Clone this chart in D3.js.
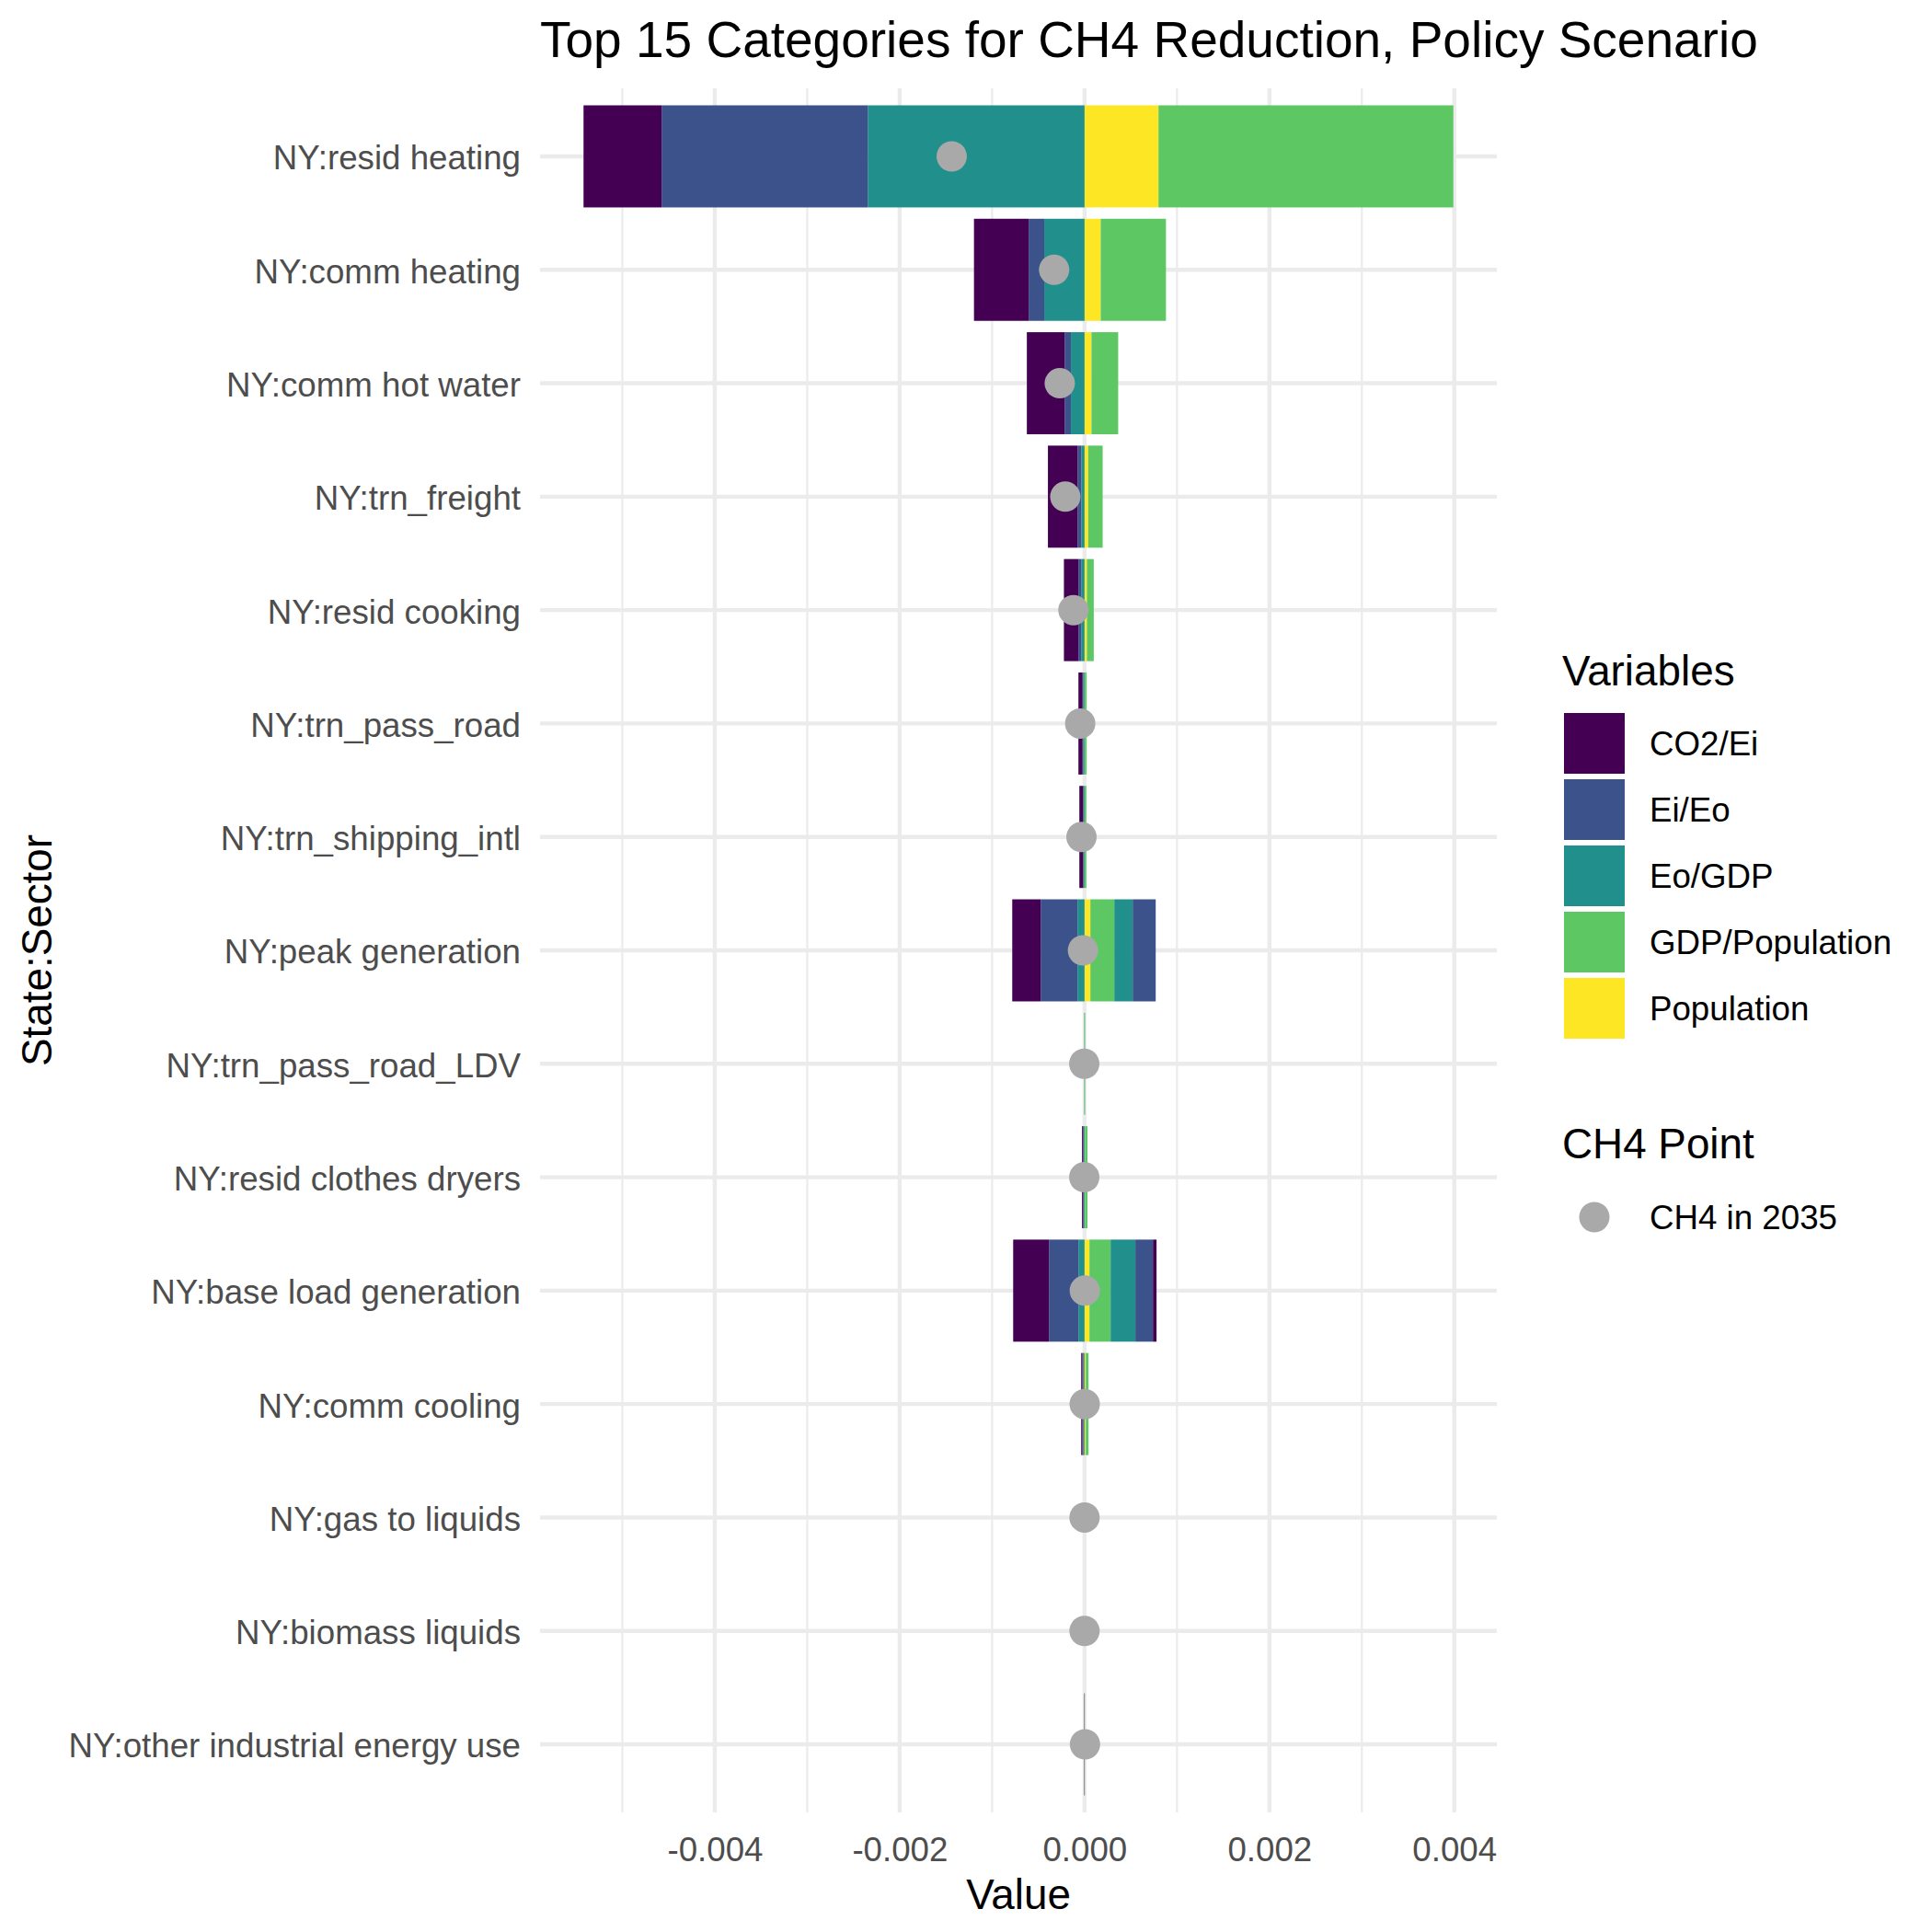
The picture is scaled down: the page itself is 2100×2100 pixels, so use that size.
<!DOCTYPE html>
<html><head><meta charset="utf-8">
<script src="https://cdn.jsdelivr.net/npm/d3@7"></script>
<style>body{margin:0;background:#fff} svg text{font-family:"Liberation Sans",Arial,Helvetica,sans-serif}</style>
</head><body><svg id="c" width="2100" height="2100"></svg>
<script>
// ---- data ----
const categories = ["NY:resid heating","NY:comm heating","NY:comm hot water","NY:trn_freight","NY:resid cooking","NY:trn_pass_road","NY:trn_shipping_intl","NY:peak generation","NY:trn_pass_road_LDV","NY:resid clothes dryers","NY:base load generation","NY:comm cooling","NY:gas to liquids","NY:biomass liquids","NY:other industrial energy use"];
const variables = ["CO2/Ei","Ei/Eo","Eo/GDP","GDP/Population","Population"];
// each category may have several contributions for one variable
const co2Ei   = [[-0.000845],[-0.000592],[-0.000409],[-0.000322],[-0.000157],[-0.000045],[-0.000040],[-0.000308],[0],[-0.000012],[-0.000388,0.000039],[-0.000013],[0],[0],[-0.000004]];
const eiEo    = [[-0.002230],[-0.000168],[-0.000068],[-0.000040],[-0.000030],[-0.000006],[-0.000006],[-0.000398,0.000249],[0],[-0.000006],[-0.000318,0.000190],[-0.000010],[0],[0],[0]];
const eoGdp   = [[-0.002345],[-0.000436],[-0.000147],[-0.000034],[-0.000036],[-0.000015],[-0.000010],[-0.000076,0.000199],[-0.000004],[-0.000009],[-0.000066,0.000268],[-0.000013],[0],[0],[0]];
const gdpPop  = [[0.003190],[0.000706],[0.000289],[0.000156],[0.000075],[0.000020],[0.000018],[0.000259],[0.000006],[0.000028],[0.000229],[0.000030],[0],[0],[0.000004]];
const population = [[0.000800],[0.000175],[0.000075],[0.000040],[0.000025],[0.000003],[0.000002],[0.000063],[0.000001],[0.000004],[0.000053],[0.000013],[0],[0],[0]];
const ch4In2035 = [-0.001437,-0.000329,-0.000268,-0.000208,-0.000120,-0.000047,-0.000033,-0.000017,-0.000003,-0.000003,0.000003,0.000002,0,0,0.000005];
const xTicks = [-0.004,-0.002,0,0.002,0.004];
const xMinor = [-0.005,-0.003,-0.001,0.001,0.003];
const palette = ["#440154","#3B528B","#21908C","#5DC863","#FDE725"];

// ---- layout ----
const L=587, R=1627, T=96, B=1970;
const svg = d3.select("#c");
const series = [co2Ei,eiEo,eoGdp,gdpPop,population];

// stacking like ggplot position_stack: last factor level nearest zero
const segs = [];
categories.forEach((cat,i)=>{
  const entries=[];
  for(let v=variables.length-1; v>=0; v--){
    series[v][i].forEach(val=>entries.push({cat, variable:variables[v], vi:v, val}));
  }
  let pos=0, neg=0;
  entries.forEach(e=>{
    if(e.val>=0){ e.x0=pos; pos+=e.val; e.x1=pos; }
    else { e.x0=neg; neg+=e.val; e.x1=neg; }
    segs.push(e);
  });
});
const lo = d3.min(segs,d=>Math.min(d.x0,d.x1)), hi = d3.max(segs,d=>Math.max(d.x0,d.x1));
const pad = (hi-lo)*0.05;
const x = d3.scaleLinear().domain([lo-pad, hi+pad]).range([L,R]);
const y = d3.scalePoint().domain(categories).range([T,B]).padding(0.6);
const color = d3.scaleOrdinal().domain(variables).range(palette);
const step = y.step();

// gridlines
const grid = svg.append("g");
grid.selectAll(".mn").data(xMinor).join("line").attr("x1",d=>x(d)).attr("x2",d=>x(d)).attr("y1",T).attr("y2",B).attr("stroke","#EBEBEB").attr("stroke-width",2.2);
grid.selectAll(".mj").data(xTicks).join("line").attr("x1",d=>x(d)).attr("x2",d=>x(d)).attr("y1",T).attr("y2",B).attr("stroke","#EBEBEB").attr("stroke-width",4.4);
grid.selectAll(".hy").data(categories).join("line").attr("x1",L).attr("x2",R).attr("y1",d=>y(d)).attr("y2",d=>y(d)).attr("stroke","#EBEBEB").attr("stroke-width",4.4);

// bars
svg.append("g").selectAll("rect").data(segs.filter(d=>d.val!==0)).join("rect")
  .attr("x",d=>x(Math.min(d.x0,d.x1))).attr("width",d=>Math.abs(x(d.x1)-x(d.x0)))
  .attr("y",d=>y(d.cat)-step*0.45).attr("height",step*0.9)
  .attr("fill",d=>color(d.variable));

// points
svg.append("g").selectAll("circle").data(categories).join("circle")
  .attr("cx",(d,i)=>x(ch4In2035[i])).attr("cy",d=>y(d)).attr("r",16.5).attr("fill","#A9A9A9");

// axes
const xa = svg.append("g").attr("transform",`translate(0,${B})`)
  .call(d3.axisBottom(x).tickValues(xTicks).tickFormat(d=>d.toFixed(3)).tickSize(0).tickPadding(27));
xa.select(".domain").remove();
xa.selectAll("text").attr("font-size",36.7).attr("fill","#4D4D4D").style("font-family",'"Liberation Sans",Arial,sans-serif');
const ya = svg.append("g").attr("transform",`translate(${L},0)`)
  .call(d3.axisLeft(y).tickSize(0).tickPadding(21));
ya.select(".domain").remove();
ya.selectAll("text").attr("font-size",36.7).attr("fill","#4D4D4D").attr("dy","0.38em").style("font-family",'"Liberation Sans",Arial,sans-serif');

// titles
svg.append("text").attr("x",L).attr("y",62).attr("font-size",55).attr("fill","#000").text("Top 15 Categories for CH4 Reduction, Policy Scenario");
svg.append("text").attr("x",(L+R)/2).attr("y",2075).attr("text-anchor","middle").attr("font-size",45.8).attr("fill","#000").text("Value");
svg.append("text").attr("transform",`translate(56,${(T+B)/2}) rotate(-90)`).attr("text-anchor","middle").attr("font-size",45.8).attr("fill","#000").text("State:Sector");

// legend
const lg = svg.append("g");
lg.append("text").attr("x",1698).attr("y",745).attr("font-size",45.8).attr("fill","#000").text("Variables");
variables.forEach((v,i)=>{
  const cy = 808 + i*72;
  lg.append("rect").attr("x",1700).attr("y",cy-33).attr("width",66).attr("height",66).attr("fill",color(v));
  lg.append("text").attr("x",1793).attr("y",cy+13).attr("font-size",36.7).attr("fill","#000").text(v);
});
lg.append("text").attr("x",1698).attr("y",1259).attr("font-size",45.8).attr("fill","#000").text("CH4 Point");
lg.append("circle").attr("cx",1733).attr("cy",1323).attr("r",16.5).attr("fill","#A9A9A9");
lg.append("text").attr("x",1793).attr("y",1336).attr("font-size",36.7).attr("fill","#000").text("CH4 in 2035");
</script></body></html>
